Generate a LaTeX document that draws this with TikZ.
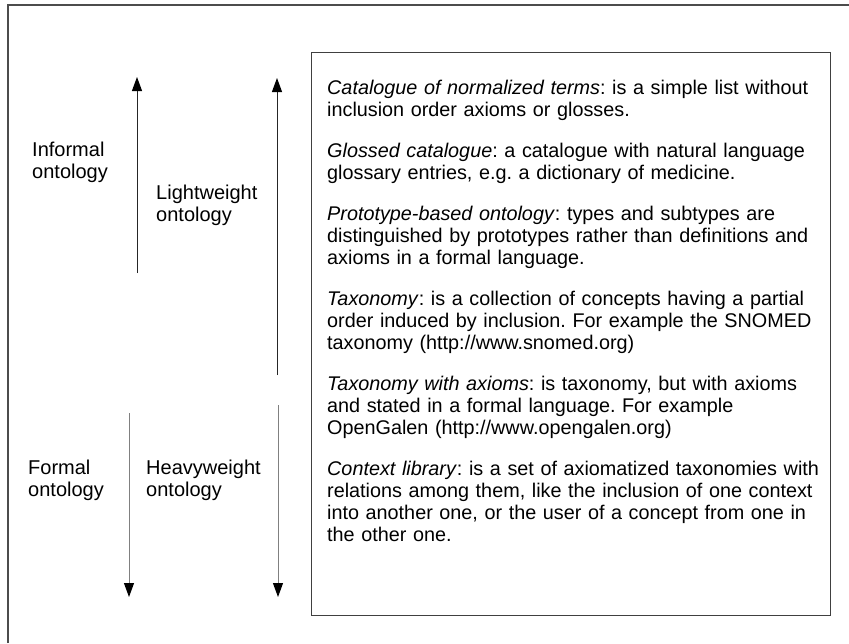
\documentclass[tikz,border=0pt]{standalone}
\usepackage{fontspec}
\setmainfont{Liberation Sans}
\usetikzlibrary{arrows.meta}
\frenchspacing
\begin{document}
\begin{tikzpicture}[x=1pt,y=-1pt,
  lbl/.style={anchor=base west, align=left, inner sep=0pt, font=\fontsize{20}{22}\selectfont},
  uparr/.style={line width=1pt, black!85, -{Triangle[width=10pt,length=14pt,color=black]}},
  dnarr/.style={line width=1pt, black!50, -{Triangle[width=10pt,length=14pt,color=black]}},
  frame/.style={line width=2pt, black!70},
  boxst/.style={draw, line width=1.3pt, black!75, anchor=north west, inner sep=0pt,
                minimum width=519pt, minimum height=563pt}
]
\useasboundingbox (0,0) rectangle (849,643);
\fill[white] (0,0) rectangle (849,643);
% outer frame (top and left visible)
\coordinate (fbl) at (8,643);
\coordinate (ftl) at (8,5);
\coordinate (ftr) at (849,5);
\draw[frame] (fbl) -- (ftl) -- (ftr);

% right box
\node (box) [boxst] at (311,52) {};
\node (txt) [lbl, text width=505pt, text=black, font=\fontsize{19.8}{22}\selectfont] at (327,94) {%
\textit{Catalogue of normalized terms}: is a simple list without\\
inclusion order axioms or glosses.\\[19pt]
\textit{Glossed catalogue}: a catalogue with natural language\\
glossary entries, e.g. a dictionary of medicine.\\[19pt]
\textit{Prototype-based ontology}: types and subtypes are\\
distinguished by prototypes rather than definitions and\\
axioms in a formal language.\\[19pt]
\textit{Taxonomy}: is a collection of concepts having a partial\\
order induced by inclusion. For example the SNOMED\\
taxonomy (http://www.snomed.org)\\[19pt]
\textit{Taxonomy with axioms}: is taxonomy, but with axioms\\
and stated in a formal language. For example\\
OpenGalen (http://www.opengalen.org)\\[19pt]
\textit{Context library}: is a set of axiomatized taxonomies with\\
relations among them, like the inclusion of one context\\
into another one, or the user of a concept from one in\\
the other one.};

% left labels (anchor = baseline of last line)
\node (inf) [lbl, text=black] at (32,178) {Informal\\ontology};
\node (light) [lbl, text=black] at (156,221) {Lightweight\\ontology};
\node (form) [lbl, text=black] at (28,496) {Formal\\ontology};
\node (heavy) [lbl, text=black] at (146,496) {Heavyweight\\ontology};

% arrows
\coordinate (a1s) at (137,273);
\coordinate (a1e) at (137,77);
\coordinate (a2s) at (277,375);
\coordinate (a2e) at (277,78);
\coordinate (a3s) at (129,413);
\coordinate (a3e) at (129,597);
\coordinate (a4s) at (278,405);
\coordinate (a4e) at (278,597);
\draw[uparr] (a1s) -- (a1e);
\draw[uparr] (a2s) -- (a2e);
\draw[dnarr] (a3s) -- (a3e);
\draw[dnarr] (a4s) -- (a4e);
\end{tikzpicture}
\end{document}
